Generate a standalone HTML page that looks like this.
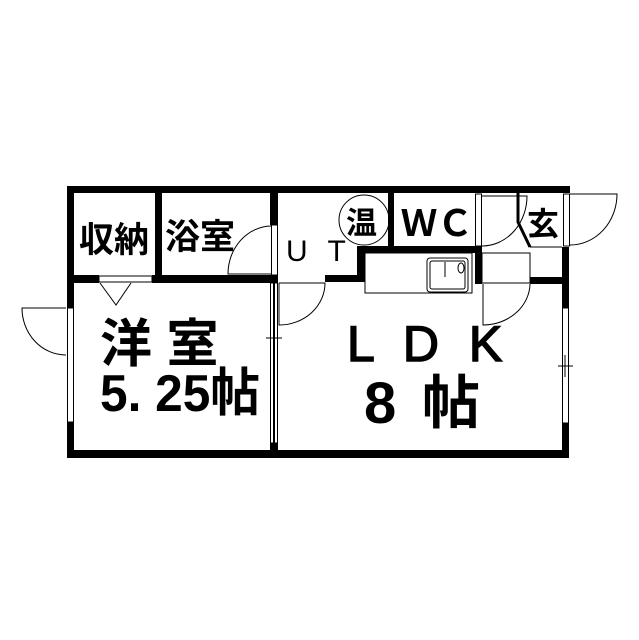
<!DOCTYPE html>
<html><head><meta charset="utf-8"><style>
html,body{margin:0;padding:0;background:#fff;}
svg{display:block;}
text{font-family:"Liberation Sans","Noto Sans CJK JP",sans-serif;fill:#000;}
</style></head><body>
<svg width="639" height="640" viewBox="0 0 639 640" xmlns="http://www.w3.org/2000/svg">
<g fill="#000">
<rect x="67" y="186" width="503" height="7"/>
<rect x="67" y="186" width="7" height="122"/>
<rect x="67" y="422" width="7" height="36"/>
<rect x="67" y="450" width="502" height="8"/>
<rect x="562" y="247" width="7" height="61"/>
<rect x="562" y="423" width="7" height="35"/>
<rect x="155" y="186" width="7" height="96"/>
<rect x="270" y="186" width="8" height="39"/>
<rect x="74" y="275" width="25" height="8"/>
<rect x="152" y="275" width="126" height="8"/>
<rect x="270" y="275" width="8" height="8"/>
<rect x="325" y="275" width="40" height="7"/>
<rect x="357" y="247" width="8" height="35"/>
<rect x="388" y="186" width="6" height="61"/>
<rect x="357" y="246" width="125" height="7"/>
<rect x="475" y="246" width="7" height="38"/>
<rect x="530" y="277" width="33" height="7"/>
<rect x="270" y="443" width="8" height="8"/>
</g>
<g fill="none" stroke="#000" stroke-width="1">
<rect x="67.5" y="308" width="6" height="114"/>
<path d="M66 308 H22 A44 47 0 0 0 66 355"/>
<rect x="562.5" y="308" width="6" height="115"/>
<line x1="558" y1="366" x2="573" y2="366"/><line x1="565" y1="355" x2="565" y2="377"/>
<rect x="270.5" y="283" width="3" height="160"/><rect x="274.5" y="283" width="3" height="160"/>
<line x1="266" y1="338" x2="282" y2="338"/>
<rect x="99" y="276" width="53" height="6"/>
<path d="M100 283 L116 305 L131 283"/>
<rect x="271.5" y="225" width="6" height="50"/>
<path d="M271 226 A44 48 0 0 0 228 274 H271"/>
<path d="M279 283 V325 A46 42 0 0 0 325 283 H279"/>
<rect x="475.5" y="194" width="6" height="52"/>
<path d="M482 196 H527 A45 50 0 0 1 482 246"/>
<rect x="482" y="253" width="48" height="30"/>
<line x1="530" y1="247" x2="562" y2="247"/>
<path d="M483 284 V325 A47 42 0 0 0 530 284"/>
<rect x="563.5" y="194" width="6" height="52"/>
<path d="M570 194 H617 A47 51 0 0 1 570 245"/>
<rect x="365" y="253" width="107" height="40"/>
<rect x="427" y="258" width="41" height="34" rx="3"/>
<rect x="430" y="261" width="35" height="28" rx="2"/>
<line x1="445" y1="262" x2="445" y2="277"/>
<ellipse cx="461" cy="268" rx="3" ry="5"/>
<circle cx="364" cy="220" r="25"/>
</g>
<path d="M518 193 V222 L530 247" fill="none" stroke="#000" stroke-width="3"/>
<g font-size="35" font-weight="bold">
<text x="79" y="252">収納</text>
<text x="165" y="249">浴室</text>
<text x="346" y="234" font-size="31">温</text>
<text x="527" y="235" font-size="32">玄</text>
</g>
<text x="286" y="261" font-size="30" letter-spacing="6">U T</text>
<text x="401" y="236" font-size="36" font-weight="bold" textLength="72" lengthAdjust="spacingAndGlyphs">ＷＣ</text>
<g font-weight="bold">
<text x="100" y="362" font-size="52">洋 室</text>
<text x="100" y="411" font-size="52" textLength="160" lengthAdjust="spacingAndGlyphs">5. 25帖</text>
<text x="347" y="361" font-size="50" font-weight="normal" stroke="#000" stroke-width="1.5" letter-spacing="8">L D K</text>
<text x="364" y="423" font-size="58" textLength="116" lengthAdjust="spacing">8 帖</text>
</g>
</svg>
</body></html>
